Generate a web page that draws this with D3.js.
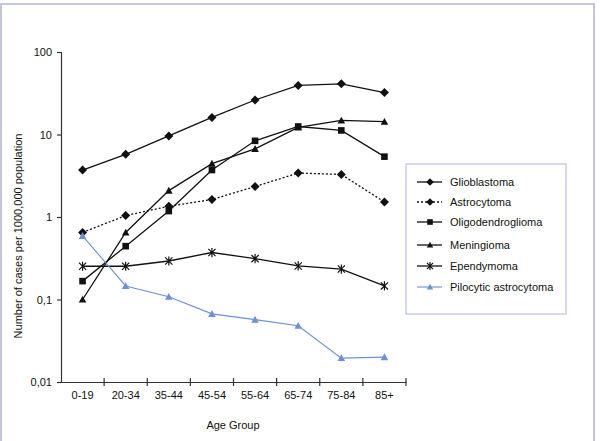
<!DOCTYPE html>
<html>
<head>
    <script src="https://cdnjs.cloudflare.com/ajax/libs/d3/7.8.5/d3.min.js"></script>
    <style>
        body { margin: 0; background: #fff; }
        text { font-family: "Liberation Sans", Arial, sans-serif; fill: #111; }
    </style>
</head>
<body>
    <div id="chart"></div>
    <script>
        // Age groups on the x axis
        const ageGroups = ["0-19", "20-34", "35-44", "45-54", "55-64", "65-74", "75-84", "85+"];
        const yTicks = [0.01, 0.1, 1, 10, 100];

        // cases per 1,000,000
        const glioblastoma = [3.7, 5.75, 9.6, 16.1, 26.2, 39.3, 41.1, 32.2];
        const astrocytoma = [0.65, 1.04, 1.35, 1.63, 2.34, 3.41, 3.28, 1.52];
        const oligodendroglioma = [0.167, 0.443, 1.18, 3.71, 8.38, 12.5, 11.2, 5.39];
        const meningioma = [0.1, 0.65, 2.09, 4.43, 6.69, 12.2, 14.8, 14.3];
        const ependymoma = [0.253, 0.253, 0.293, 0.371, 0.313, 0.255, 0.234, 0.146];
        const pilocytic = [0.59, 0.146, 0.108, 0.067, 0.057, 0.048, 0.0195, 0.02];

        const series = [
            { name: "Glioblastoma", values: glioblastoma, marker: "diamond", color: "#111", dash: null },
            { name: "Astrocytoma", values: astrocytoma, marker: "diamond", color: "#111", dash: "2,2" },
            { name: "Oligodendroglioma", values: oligodendroglioma, marker: "square", color: "#111", dash: null },
            { name: "Meningioma", values: meningioma, marker: "triangle", color: "#111", dash: null },
            { name: "Ependymoma", values: ependymoma, marker: "star", color: "#111", dash: null },
            { name: "Pilocytic astrocytoma", values: pilocytic, marker: "triangle", color: "#6f8fd6", dash: null }
        ];

        const width = 600, height = 441;
        const svg = d3.select("#chart").append("svg")
            .attr("width", width)
            .attr("height", height);

        // outer frame
        svg.append("rect")
            .attr("x", 1).attr("y", 4)
            .attr("width", 593).attr("height", 445)
            .attr("fill", "none")
            .attr("stroke", "#c4c4dc")
            .attr("stroke-width", 2);

        const x = d3.scaleBand().domain(ageGroups).range([61, 406]);
        const y = d3.scaleLog().domain([0.01, 100]).range([382, 52]);

        // y axis
        const yAxis = svg.append("g")
            .attr("transform", "translate(61,0)")
            .call(d3.axisLeft(y)
                .tickValues(yTicks)
                .tickSize(4)
                .tickPadding(5)
                .tickFormat(d => String(d).replace(".", ",")));
        yAxis.selectAll("path, line").attr("stroke", "#333").attr("stroke-width", 1.2);
        yAxis.selectAll("text").style("font-size", "11px").attr("fill", "#111");

        // x axis: labels at band centres, ticks at band edges crossing the line
        const xAxis = svg.append("g")
            .attr("transform", "translate(0,382)")
            .call(d3.axisBottom(x).tickSize(0).tickPadding(9));
        xAxis.select(".domain").attr("stroke", "#333").attr("stroke-width", 1.2);
        xAxis.selectAll("text").style("font-size", "11px").attr("fill", "#111");

        const edges = ageGroups.map(g => x(g) + x.bandwidth()).slice(0);
        svg.append("g").selectAll("line")
            .data(edges)
            .join("line")
            .attr("x1", d => d).attr("x2", d => d)
            .attr("y1", 378).attr("y2", 386)
            .attr("stroke", "#333")
            .attr("stroke-width", 1.2);

        // axis titles
        svg.append("text")
            .attr("x", 233).attr("y", 429)
            .attr("text-anchor", "middle")
            .style("font-size", "11px")
            .text("Age Group");

        svg.append("text")
            .attr("transform", "translate(22,236) rotate(-90)")
            .attr("text-anchor", "middle")
            .style("font-size", "11px")
            .text("Number of cases per 1000,000 population");

        // marker shapes
        function drawMarker(g, type, color, cx, cy, small) {
            const k = small ? 0.85 : 1;
            if (type === "diamond") {
                const s = 4.5 * k;
                g.append("path")
                    .attr("d", `M${cx},${cy - s}L${cx + s},${cy}L${cx},${cy + s}L${cx - s},${cy}Z`)
                    .attr("fill", color);
            } else if (type === "square") {
                const s = 3.3 * k;
                g.append("rect")
                    .attr("x", cx - s).attr("y", cy - s)
                    .attr("width", 2 * s).attr("height", 2 * s)
                    .attr("fill", color);
            } else if (type === "triangle") {
                const s = 3.8 * k;
                g.append("path")
                    .attr("d", `M${cx},${cy - s}L${cx + s},${cy + s * 0.8}L${cx - s},${cy + s * 0.8}Z`)
                    .attr("fill", color);
            } else if (type === "star") {
                const s = 3.6 * k;
                g.append("path")
                    .attr("d", `M${cx - s},${cy - s}L${cx + s},${cy + s}M${cx + s},${cy - s}L${cx - s},${cy + s}M${cx},${cy - s - 1}L${cx},${cy + s + 1}`)
                    .attr("stroke", color)
                    .attr("stroke-width", 1.2)
                    .attr("fill", "none");
            }
        }

        const line = d3.line()
            .x((d, i) => x(ageGroups[i]) + x.bandwidth() / 2)
            .y(d => y(d));

        const plot = svg.append("g");
        series.forEach(s => {
            plot.append("path")
                .datum(s.values)
                .attr("d", line)
                .attr("fill", "none")
                .attr("stroke", s.color)
                .attr("stroke-width", s.color === "#111" ? 1.3 : 1.1)
                .attr("stroke-dasharray", s.dash);
            const mg = plot.append("g");
            s.values.forEach((v, i) => {
                drawMarker(mg, s.marker, s.color, x(ageGroups[i]) + x.bandwidth() / 2, y(v), false);
            });
        });

        // legend
        const legend = svg.append("g");
        legend.append("rect")
            .attr("x", 406).attr("y", 164)
            .attr("width", 160).attr("height", 150)
            .attr("fill", "#fff")
            .attr("stroke", "#b8c0e4")
            .attr("stroke-width", 1.2);

        const rowY = [182, 202, 222, 245, 266, 287];
        series.forEach((s, i) => {
            const ry = rowY[i];
            legend.append("line")
                .attr("x1", 417).attr("x2", 442)
                .attr("y1", ry).attr("y2", ry)
                .attr("stroke", s.color)
                .attr("stroke-width", s.color === "#111" ? 1.3 : 1.1)
                .attr("stroke-dasharray", s.dash);
            drawMarker(legend, s.marker, s.color, 430, ry, true);
            legend.append("text")
                .attr("x", 450).attr("y", ry + 4)
                .style("font-size", "11px")
                .text(s.name);
        });
    </script>
</body>
</html>
